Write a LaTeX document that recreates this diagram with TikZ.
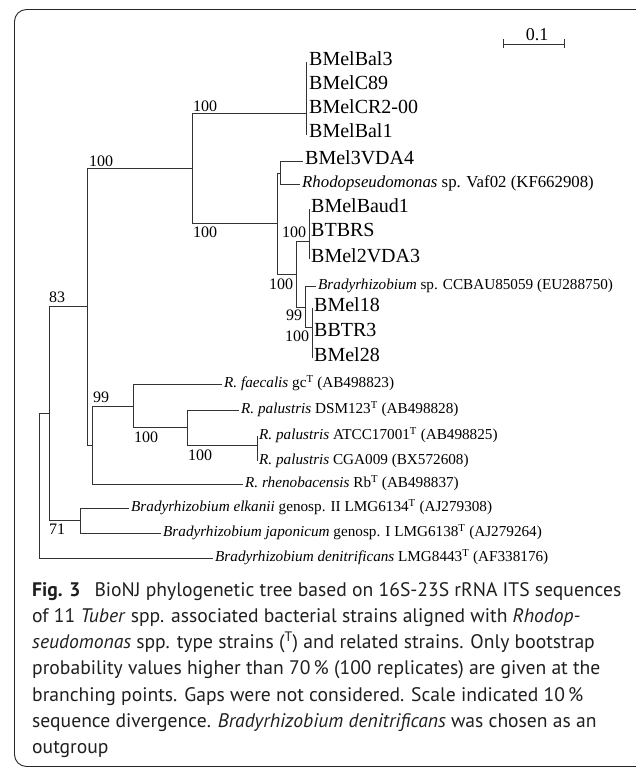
\documentclass[tikz,border=0pt]{standalone}
\usepackage{fontspec}
\setmainfont{Liberation Serif}
\newfontfamily\capfont{PT Sans}

\begin{document}
\begin{tikzpicture}[x=1pt,y=-1pt,
  branch/.style={draw=black!80, line width=0.9pt},
  leaf/.style={anchor=west, inner sep=2pt, text height=0.7em, text depth=0pt},
  strain/.style={leaf, font=\fontsize{20}{24}\selectfont},
  taxon/.style={leaf, font=\fontsize{15.2}{18}\selectfont},
  boot/.style={inner sep=0pt, font=\fontsize{16}{19}\selectfont},
  capline/.style={anchor=base west, inner sep=0pt, text=black!88,
    font=\capfont\fontsize{19.6}{26}\selectfont}]
\useasboundingbox (0,0) rectangle (636,768);
\begin{scope}
\clip (0,0) rectangle (636,768);
\draw[black!85, line width=0.9pt, rounded corners=12pt] (14.5,9.5) rectangle (680,766.5);
\end{scope}

% scale bar
\coordinate (sb1) at (503,44);
\coordinate (sb2) at (564,44);
\draw[branch] (sb1) -- (sb2);
\draw[branch] ([yshift=4.5pt]sb1) -- ([yshift=-4.5pt]sb1);
\draw[branch] ([yshift=4.5pt]sb2) -- ([yshift=-4.5pt]sb2);
\node[inner sep=0pt, font=\fontsize{18}{20}\selectfont] (scale) at (537,35) {0.1};

% branching points
\coordinate (root) at (39,413);
\coordinate (n83) at (49.3,413);
\coordinate (nB) at (87,306);
\coordinate (n71) at (80,520);
\coordinate (nA) at (192,168);
\coordinate (n99) at (92,445);
\coordinate (nC) at (306,113);
\coordinate (nD) at (277,223);
\coordinate (nE) at (280,173);
\coordinate (nF) at (296,274);
\coordinate (nG) at (309,241);
\coordinate (nH) at (305,307);
\coordinate (nI) at (312,327);
\coordinate (nJ) at (133,406);
\coordinate (nK) at (187,427);
\coordinate (nL) at (257,445);

% strains
\node[strain] (bal3) at (307,62) {BMelBal3};
\node[strain] (c89) at (307,86) {BMelC89};
\node[strain] (cr2) at (307,110) {BMelCR2-00};
\node[strain] (bal1) at (307,134) {BMelBal1};
\node[strain] (vda4) at (303,161) {BMel3VDA4};
\node[taxon, font=\fontsize{16.8}{19}\selectfont] (vaf) at (300,184) {\textit{Rhodopseudomonas} sp. Vaf02 (KF662908)};
\node[strain] (baud1) at (309,209) {BMelBaud1};
\node[strain] (tbrs) at (309,233) {BTBRS};
\node[strain] (vda3) at (309,259) {BMel2VDA3};
\node[taxon] (ccbau) at (316,286) {\textit{Bradyrhizobium} sp. CCBAU85059 (EU288750)};
\node[strain] (mel18) at (312,308) {BMel18};
\node[strain] (bbtr3) at (312,333) {BBTR3};
\node[strain] (mel28) at (312,358) {BMel28};
\node[taxon] (faec) at (222,384) {\textit{R. faecalis} gc\textsuperscript{T} (AB498823)};
\node[taxon] (dsm) at (239,410) {\textit{R. palustris} DSM123\textsuperscript{T} (AB498828)};
\node[taxon] (atcc) at (257,436) {\textit{R. palustris} ATCC17001\textsuperscript{T} (AB498825)};
\node[taxon] (cga) at (257,461) {\textit{R. palustris} CGA009 (BX572608)};
\node[taxon] (rheno) at (243,484) {\textit{R. rhenobacensis} Rb\textsuperscript{T} (AB498837)};
\node[taxon] (elk) at (129,508) {\textit{Bradyrhizobium elkanii} genosp. II LMG6134\textsuperscript{T} (AJ279308)};
\node[taxon] (jap) at (161,533) {\textit{Bradyrhizobium japonicum} genosp. I LMG6138\textsuperscript{T} (AJ279264)};
\node[taxon] (denit) at (213,558) {\textit{Bradyrhizobium denitrificans} LMG8443\textsuperscript{T} (AF338176)};

% branches
\draw[branch] (root) |- (n83) (root) |- (denit.west);
\draw[branch] (n83) |- (nB) (n83) |- (n71);
\draw[branch] (nB) |- (nA) (nB) |- (n99);
\draw[branch] (nA) |- (nC) (nA) |- (nD);
\draw[branch] (nC) |- (bal3.west) (nC) |- (c89.west) (nC) |- (cr2.west) (nC) |- (bal1.west);
\draw[branch] (nD) |- (nE) (nD) |- (nF);
\draw[branch] (nE) |- (vda4.west) (nE) |- (vaf.west);
\draw[branch] (nF) |- (nG) (nF) |- (nH);
\draw[branch] (nG) |- (baud1.west) (nG) |- (tbrs.west) (nG) |- (vda3.west);
\draw[branch] (nH) |- (ccbau.west) (nH) |- (nI);
\draw[branch] (nI) |- (mel18.west) (nI) |- (bbtr3.west) (nI) |- (mel28.west);
\draw[branch] (n99) |- (nJ) (n99) |- (rheno.west);
\draw[branch] (nJ) |- (faec.west) (nJ) |- (nK);
\draw[branch] (nK) |- (dsm.west) (nK) |- (nL);
\draw[branch] (nL) |- (atcc.west) (nL) |- (cga.west);
\draw[branch] (n71) |- (elk.west) (n71) |- (jap.west);

% bootstrap values
\node[boot] (bs1) at (101,161) {100};
\node[boot] (bs2) at (205,106) {100};
\node[boot] (bs3) at (205,232) {100};
\node[boot] (bs4) at (281,284) {100};
\node[boot] (bs5) at (294,232) {100};
\node[boot] (bs6) at (294,315) {99};
\node[boot] (bs7) at (297,336) {100};
\node[boot] (bs8) at (57,297) {83};
\node[boot] (bs9) at (101,397) {99};
\node[boot] (bs10) at (146,437) {100};
\node[boot] (bs11) at (200,455) {100};
\node[boot] (bs12) at (57,529) {71};

% caption
\node[capline] (cap1) at (32,596) {\textbf{Fig. 3}\hspace{0.45em} BioNJ phylogenetic tree based on 16S-23S rRNA ITS sequences};
\node[capline] (cap2) at (32,622.3) {of 11 \textit{Tuber} spp. associated bacterial strains aligned with \textit{Rhodop-}};
\node[capline] (cap3) at (32,648.6) {\textit{seudomonas} spp. type strains (\textsuperscript{T}) and related strains. Only bootstrap};
\node[capline] (cap4) at (32,674.9) {probability values higher than 70\,\% (100 replicates) are given at the};
\node[capline] (cap5) at (32,701.2) {branching points. Gaps were not considered. Scale indicated 10\,\%};
\node[capline] (cap6) at (32,727.5) {sequence divergence. \textit{Bradyrhizobium denitrificans} was chosen as an};
\node[capline] (cap7) at (32,753.8) {outgroup};
\end{tikzpicture}
\end{document}
